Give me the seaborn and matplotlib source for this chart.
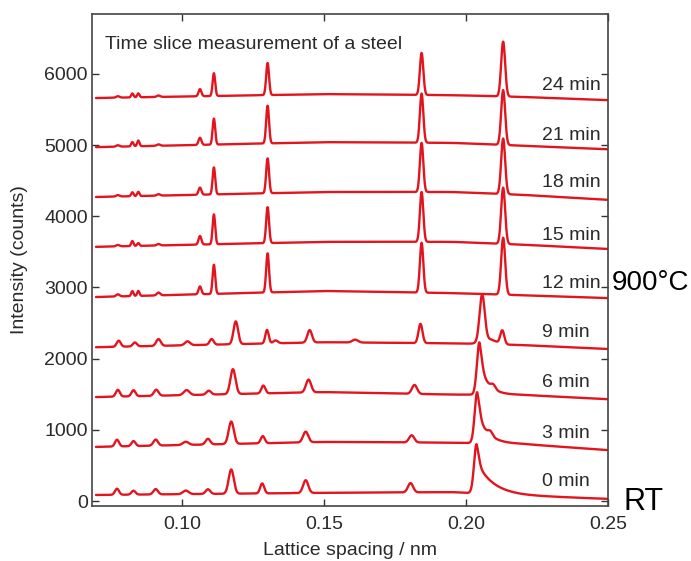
import numpy as np
import pandas as pd
import matplotlib
matplotlib.use("Agg")
import matplotlib.pyplot as plt
import seaborn as sns

# ---------------- data ----------------
TIMES = ["0 min", "3 min", "6 min", "9 min", "12 min", "15 min", "18 min", "21 min", "24 min"]

# baseline (counts) at these lattice spacings, per time slice
BASE_X = [0.07, 0.15, 0.195, 0.22, 0.25]
BASE_0 = [85, 115, 125, 75, 30]
BASE_3 = [760, 830, 820, 800, 715]
BASE_6 = [1460, 1530, 1495, 1490, 1430]
BASE_9 = [2160, 2230, 2215, 2190, 2135]
BASE_12 = [2865, 2950, 2920, 2890, 2850]
BASE_15 = [3570, 3640, 3640, 3600, 3540]
BASE_18 = [4270, 4340, 4340, 4300, 4230]
BASE_21 = [4970, 5040, 5030, 4990, 4940]
BASE_24 = [5660, 5715, 5700, 5675, 5630]

# room-temperature (ferrite) peaks: position (nm), height (counts), width (nm),
# right-side exponential tail length (nm, 0 = symmetric peak)
POS_0 = [0.0772, 0.0830, 0.0908, 0.1014, 0.1092, 0.1174, 0.1283, 0.1436, 0.1805, 0.2035, 0.2038]
H_0 = [85, 55, 75, 50, 65, 340, 140, 180, 130, 250, 450]
W_0 = [0.0007, 0.0007, 0.0008, 0.0010, 0.0008, 0.0009, 0.0007, 0.0009, 0.0009, 0.0009, 0.0008]
TAU_0 = [0, 0, 0, 0, 0, 0, 0, 0, 0, 0, 0.0055]

POS_3 = [0.0772, 0.0830, 0.0908, 0.1014, 0.1092, 0.1174, 0.1285, 0.1436, 0.1809, 0.2038, 0.2040, 0.2086]
H_3 = [95, 70, 85, 45, 80, 315, 100, 150, 100, 280, 440, 60]
W_3 = [0.0007, 0.0007, 0.0008, 0.0010, 0.0008, 0.0009, 0.0007, 0.0009, 0.0009, 0.0009, 0.0008, 0.0008]
TAU_3 = [0, 0, 0, 0, 0, 0, 0, 0, 0, 0, 0.0035, 0]

POS_6 = [0.0775, 0.0830, 0.0910, 0.1017, 0.1095, 0.1180, 0.1287, 0.1446, 0.1819, 0.2046, 0.2048, 0.2096]
H_6 = [95, 85, 85, 70, 55, 350, 110, 180, 125, 290, 450, 60]
W_6 = [0.0007, 0.0007, 0.0008, 0.0010, 0.0008, 0.0009, 0.0007, 0.0009, 0.0009, 0.0009, 0.0008, 0.0008]
TAU_6 = [0, 0, 0, 0, 0, 0, 0, 0, 0, 0, 0.0030, 0]

POS_9 = [0.0778, 0.0835, 0.0918, 0.1020, 0.1105, 0.1190, 0.1300, 0.1330, 0.1450, 0.1610, 0.1840, 0.2057, 0.2080, 0.2128]
H_9 = [85, 55, 95, 55, 80, 320, 190, 40, 175, 40, 270, 650, 70, 190]
W_9 = [0.0007, 0.0007, 0.0008, 0.0009, 0.0007, 0.0008, 0.0006, 0.0008, 0.0008, 0.0010, 0.0007, 0.0009, 0.0025, 0.0007]
TAU_9 = [0] * 14

# high-temperature (austenite) peaks, shared positions / widths
FCC_POS = [0.0775, 0.0826, 0.0847, 0.0918, 0.1064, 0.1113, 0.1302, 0.1844, 0.2131]
FCC_W = [0.0006, 0.0004, 0.0004, 0.0006, 0.0005, 0.00045, 0.0005, 0.0006, 0.0007]
FCC_TAU = [0] * 9
H_12 = [30, 70, 70, 40, 110, 410, 550, 700, 800]
H_15 = [20, 70, 40, 20, 120, 420, 505, 700, 790]
H_18 = [20, 55, 60, 20, 100, 380, 490, 690, 780]
H_21 = [20, 60, 80, 20, 100, 365, 530, 690, 770]
H_24 = [20, 55, 55, 20, 100, 320, 450, 590, 770]

LABEL_Y = [280, 955, 1660, 2360, 3050, 3735, 4470, 5140, 5830]
LABEL_X = [0.2436, 0.2436, 0.2436, 0.2436, 0.2475, 0.2475, 0.2475, 0.2475, 0.2475]

XTICKS = [0.10, 0.15, 0.20, 0.25]
XTICKLABELS = ["0.10", "0.15", "0.20", "0.25"]
YTICKS = [0, 1000, 2000, 3000, 4000, 5000, 6000]

# ---------------- build traces ----------------
bases = [BASE_0, BASE_3, BASE_6, BASE_9, BASE_12, BASE_15, BASE_18, BASE_21, BASE_24]
peaks = [
    (POS_0, H_0, W_0, TAU_0), (POS_3, H_3, W_3, TAU_3), (POS_6, H_6, W_6, TAU_6),
    (POS_9, H_9, W_9, TAU_9),
    (FCC_POS, H_12, FCC_W, FCC_TAU), (FCC_POS, H_15, FCC_W, FCC_TAU),
    (FCC_POS, H_18, FCC_W, FCC_TAU), (FCC_POS, H_21, FCC_W, FCC_TAU),
    (FCC_POS, H_24, FCC_W, FCC_TAU),
]


def profile(x, p, h, w, tau):
    g = np.exp(-0.5 * ((x - p) / w) ** 2)
    if tau > 0:
        g = np.where(x < p, g, np.exp(-np.clip(x - p, 0, None) / tau))
    return h * g


d = np.linspace(0.0698, 0.2497, 2400)
frames = []
for t, b, (pos, hh, ww, tt) in zip(TIMES, bases, peaks):
    y = np.interp(d, BASE_X, b).astype(float)
    for p, h, w, tau in zip(pos, hh, ww, tt):
        y = y + profile(d, p, h, w, tau)
    frames.append(pd.DataFrame({"d": d, "I": y, "time": t}))
df = pd.concat(frames, ignore_index=True)

# ---------------- plot ----------------
sns.set_style("ticks")
plt.rcParams["font.family"] = ["Liberation Sans", "DejaVu Sans"]
RED = "#e3141e"
TXT = "#2a2a2a"

fig = plt.figure(figsize=(6.91, 5.61), dpi=100)
ax = fig.add_axes([92 / 691, 55 / 561, 516 / 691, 492 / 561])

sns.lineplot(data=df, x="d", y="I", hue="time", palette=[RED] * len(TIMES),
             legend=False, linewidth=1.7, estimator=None, sort=False, ax=ax)

ax.set_xlim(0.0684, 0.25)
ax.set_ylim(-70, 6840)
ax.set_xticks(XTICKS)
ax.set_xticklabels(XTICKLABELS)
ax.set_yticks(YTICKS)
ax.tick_params(direction="in", top=True, right=True, length=5, width=1,
               colors="#333333", labelsize=14, labelcolor=TXT)
ax.tick_params(axis="x", pad=7)
ax.tick_params(axis="y", pad=3)
for s in ax.spines.values():
    s.set_color("#444444")
    s.set_linewidth(1.2)

ax.set_xlabel("Lattice spacing / nm", fontsize=14, color=TXT)
ax.set_ylabel("Intensity (counts)", fontsize=14, color=TXT)
ax.xaxis.set_label_coords(0.5, -0.073)
ax.yaxis.set_label_coords(-0.124, 0.5)

ax.text(0.025, 0.937, "Time slice measurement of a steel", transform=ax.transAxes,
        fontsize=14, color=TXT, ha="left", va="center")

for lab, lx, ly in zip(TIMES, LABEL_X, LABEL_Y):
    ax.text(lx, ly, lab, fontsize=14, color=TXT, ha="right", va="center")

fig.text(612 / 691, 1 - 283 / 561, "900°C", fontsize=20, color="black",
         ha="left", va="center")
fig.text(624 / 691, 1 - 502 / 561, "RT", fontsize=22, color="black",
         ha="left", va="center")

fig.savefig("out.png", dpi=100)
